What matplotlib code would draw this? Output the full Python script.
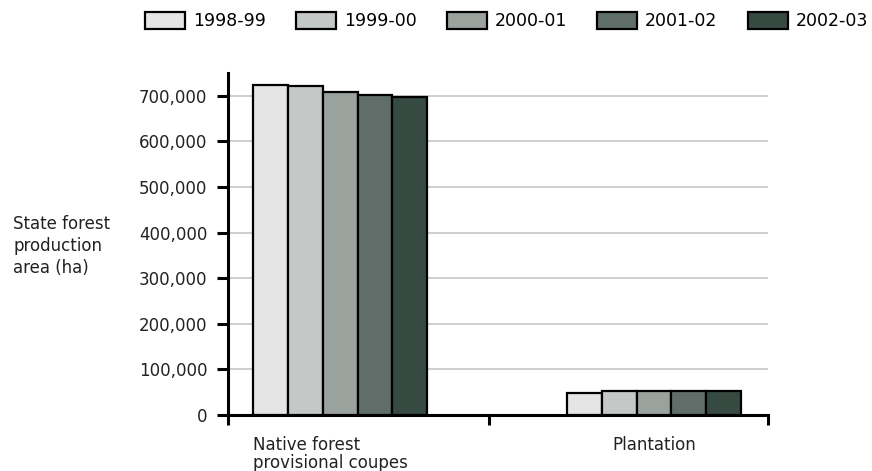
import matplotlib
matplotlib.use("Agg")
import matplotlib.pyplot as plt
from matplotlib.ticker import FuncFormatter

# data
categories = ["Native forest\nprovisional coupes", "Plantation"]
years = ["1998-99", "1999-00", "2000-01", "2001-02", "2002-03"]
native = [724000, 722000, 709000, 702000, 697000]
plantation = [49000, 53000, 53000, 53000, 53000]
colors = ["#e4e5e4", "#c4c8c6", "#9aa29e", "#5f6e68", "#374a42"]
yticks = [0, 100000, 200000, 300000, 400000, 500000, 600000, 700000]

plt.rcParams['font.family'] = ['DejaVu Sans']
plt.rcParams['font.size'] = 12

fig = plt.figure(figsize=(8.72, 4.71), dpi=100)
ax = fig.add_axes([228 / 872, 1 - 415 / 471, 540 / 872, (415 - 73) / 471])

x0, x1 = -0.357, 1.363
width = 0.111
for i, yr in enumerate(years):
    offs = (i - 2) * width
    ax.bar([0 + offs, 1 + offs], [native[i], plantation[i]], width,
           color=colors[i], edgecolor="black", linewidth=1.6, label=yr, zorder=3)

ax.set_xlim(x0, x1)
ax.set_ylim(0, 750000)
ax.set_yticks(yticks)
ax.yaxis.set_major_formatter(FuncFormatter(lambda v, p: f"{int(v):,}"))
ax.grid(axis="y", color="#c8cbc9", linewidth=1.3, zorder=0)
ax.set_axisbelow(True)

for s in ["top", "right"]:
    ax.spines[s].set_visible(False)
for s in ["left", "bottom"]:
    ax.spines[s].set_linewidth(2.2)

ax.tick_params(axis="y", length=8, width=2.2, pad=7, colors="black", labelcolor="#222222")
ax.set_xticks([x0, 0.4745, x1])
ax.set_xticklabels(["", "", ""])
ax.tick_params(axis="x", length=7, width=2.2)

# category labels below the axis
ax.text(-2.5 * width, -0.06, categories[0], transform=ax.get_xaxis_transform(),
        ha="left", va="top", color="#222222", linespacing=1.05)
ax.text(1, -0.06, categories[1], transform=ax.get_xaxis_transform(),
        ha="center", va="top", color="#222222")

fig.text(13 / 872, 1 - 246 / 471, "State forest\nproduction\narea (ha)",
         ha="left", va="center", color="#222222", linespacing=1.32)

fig.legend(loc="upper left", bbox_to_anchor=(145 / 872, 1 - 12 / 471), ncol=5,
           frameon=False, borderpad=0, borderaxespad=0, fontsize=12.5,
           handlelength=2.3, handleheight=1.15, handletextpad=0.45,
           columnspacing=1.75)

fig.savefig("out.png", dpi=100)
